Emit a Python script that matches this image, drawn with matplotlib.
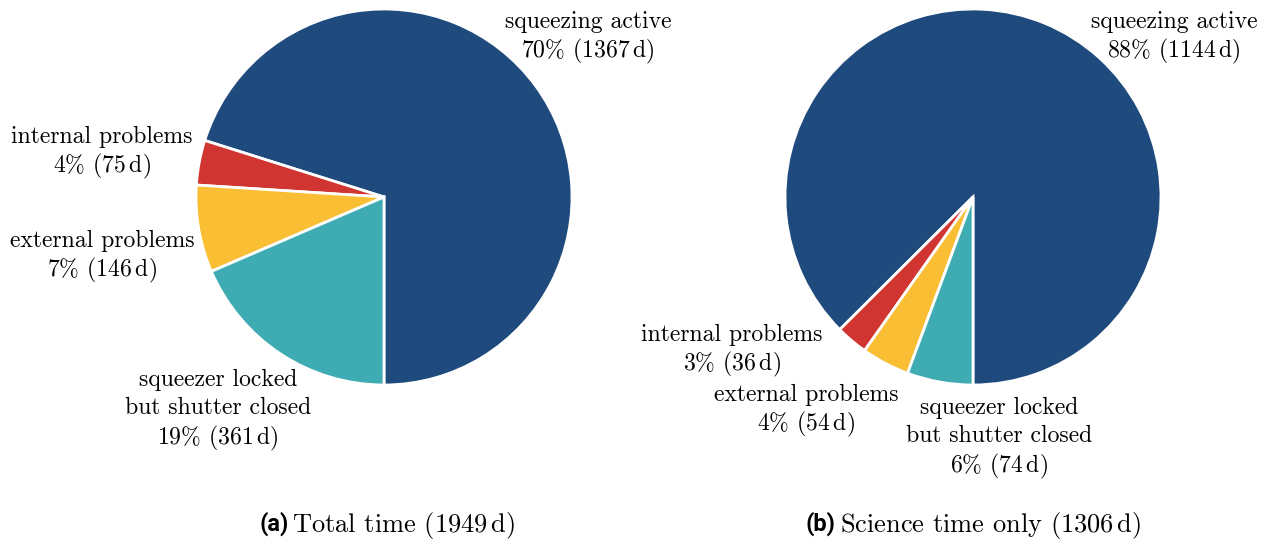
import matplotlib
matplotlib.use("Agg")
import matplotlib.pyplot as plt
from matplotlib.transforms import ScaledTranslation

plt.rcParams["mathtext.fontset"] = "cm"

categories = ["squeezing active", "internal problems", "external problems",
              "squeezer locked\nbut shutter closed"]
colors = ["#1F4A7D", "#D13532", "#F9BE33", "#3EACB2"]

total_days = [1367, 75, 146, 361]
total_pct = [70, 4, 7, 19]
total_caption_days = 1949

science_days = [1144, 36, 54, 74]
science_pct = [88, 3, 4, 6]
science_caption_days = 1306

# label anchor offsets (in units of the pie radius), one per category
total_label_pos = [(1.085, 0.87), (-1.50, 0.258), (-1.50, -0.295), (-0.883, -1.11)]
science_label_pos = [(1.069, 0.87), (-1.282, -0.795), (-0.888, -1.114), (0.138, -1.258)]

W, H = 1270, 542
DPI = 100
fig = plt.figure(figsize=(W / DPI, H / DPI), dpi=DPI)

SERIF = "cmr10"
SANS = "Roboto"
FS = 17.1
CAP_FS = 19.0
TAG_FS = 17.0
LINE_PX = 28.3


def draw_pie(cx, cy, r, days, pct, label_pos):
    ax = fig.add_axes([(cx - r) / W, (H - cy - r) / H, 2 * r / W, 2 * r / H])
    ax.pie(days, colors=colors, startangle=-90, counterclock=True, radius=1.0,
           wedgeprops=dict(edgecolor="white", linewidth=2))
    ax.set_xlim(-1, 1)
    ax.set_ylim(-1, 1)
    ax.set_aspect("equal")
    ax.axis("off")
    for name, d, p, (lx, ly) in zip(categories, days, pct, label_pos):
        lines = name.split("\n") + [f"{p}% ({d}$\\,$d)"]
        n = len(lines)
        for i, line in enumerate(lines):
            off_px = ((n - 1) / 2 - i) * LINE_PX
            tr = ax.transData + ScaledTranslation(0, off_px / DPI, fig.dpi_scale_trans)
            ax.text(lx, ly, line, transform=tr, ha="center", va="center_baseline",
                    fontfamily=SERIF, fontsize=FS, clip_on=False)
    return ax


draw_pie(384, 197, 188, total_days, total_pct, total_label_pos)
draw_pie(973, 197, 188, science_days, science_pct, science_label_pos)

# captions: bold sans tag followed by serif text
cap_y = 1 - 521 / H
fig.text(289 / W, cap_y, "(a)", ha="right", va="center_baseline", fontfamily=SANS,
         fontweight="bold", fontsize=TAG_FS)
fig.text(292 / W, cap_y, f"Total time ({total_caption_days}$\\,$d)", ha="left",
         va="center_baseline", fontfamily=SERIF, fontsize=CAP_FS)
fig.text(835 / W, cap_y, "(b)", ha="right", va="center_baseline", fontfamily=SANS,
         fontweight="bold", fontsize=TAG_FS)
fig.text(840 / W, cap_y, f"Science time only ({science_caption_days}$\\,$d)", ha="left",
         va="center_baseline", fontfamily=SERIF, fontsize=CAP_FS)

fig.savefig("out.png", dpi=DPI, facecolor="white")
